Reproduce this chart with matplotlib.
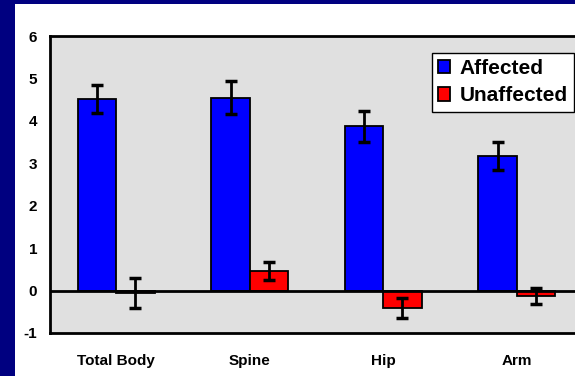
import numpy as np
import matplotlib
matplotlib.use('Agg')
import matplotlib.pyplot as plt
from matplotlib.patches import Rectangle

plt.rcParams['font.family'] = ['Liberation Sans', 'DejaVu Sans']
plt.rcParams['font.weight'] = 'bold'
plt.rcParams['axes.unicode_minus'] = False

# dados
sites = ['Total Body', 'Spine', 'Hip', 'Arm']
affected = [4.52, 4.55, 3.87, 3.16]
affected_err = [0.33, 0.38, 0.36, 0.33]
unaffected = [-0.06, 0.46, -0.41, -0.12]
unaffected_err = [0.35, 0.22, 0.24, 0.19]

fig = plt.figure(figsize=(5.75, 3.76), dpi=100)
fig.patch.set_facecolor('#000080')
# fundo branco do slide
fig.patches.append(Rectangle((15/575, 0), 1, 1 - 4/376, transform=fig.transFigure,
                             facecolor='white', edgecolor='none', zorder=-10))

ax = fig.add_axes([49.5/575, 1 - 333/376, 534/575, 297/376])
ax.set_zorder(1)
ax.set_facecolor('#E0E0E0')

x = np.arange(len(sites))
w = 0.287
ax.bar(x - w/2, affected, w, color='#0000FF', edgecolor='black', linewidth=1.3,
       label='Affected', zorder=2)
ax.bar(x + w/2, unaffected, w, color='#FF0000', edgecolor='black', linewidth=1.3,
       label='Unaffected', zorder=2)
ax.errorbar(x - w/2, affected, yerr=affected_err, fmt='none', ecolor='black',
            elinewidth=2, capsize=4, capthick=2.5, zorder=3)
ax.errorbar(x + w/2, unaffected, yerr=unaffected_err, fmt='none', ecolor='black',
            elinewidth=2, capsize=4, capthick=2.5, zorder=3)
ax.axhline(0, color='black', linewidth=2, zorder=2.5)

ax.set_xlim(-0.5, 3.5)
ax.set_ylim(-1, 6)
ax.set_yticks(range(-1, 7))
ax.set_xticks(x)
ax.set_xticklabels(sites)
ax.tick_params(axis='both', length=0, labelsize=11)
ax.tick_params(axis='y', pad=9)
ax.tick_params(axis='x', pad=15)
for s in ax.spines.values():
    s.set_linewidth(2)

leg = ax.legend(loc='upper right', bbox_to_anchor=(574/575, 1 - 52.7/376),
                bbox_transform=fig.transFigure, borderaxespad=0, fancybox=False,
                edgecolor='black', framealpha=1, fontsize=15, handlelength=0.6,
                handleheight=0.6, handletextpad=0.45, labelspacing=0.4,
                borderpad=0.3)
leg.get_frame().set_linewidth(1)

fig.savefig('out.png', dpi=100, facecolor=fig.get_facecolor())
